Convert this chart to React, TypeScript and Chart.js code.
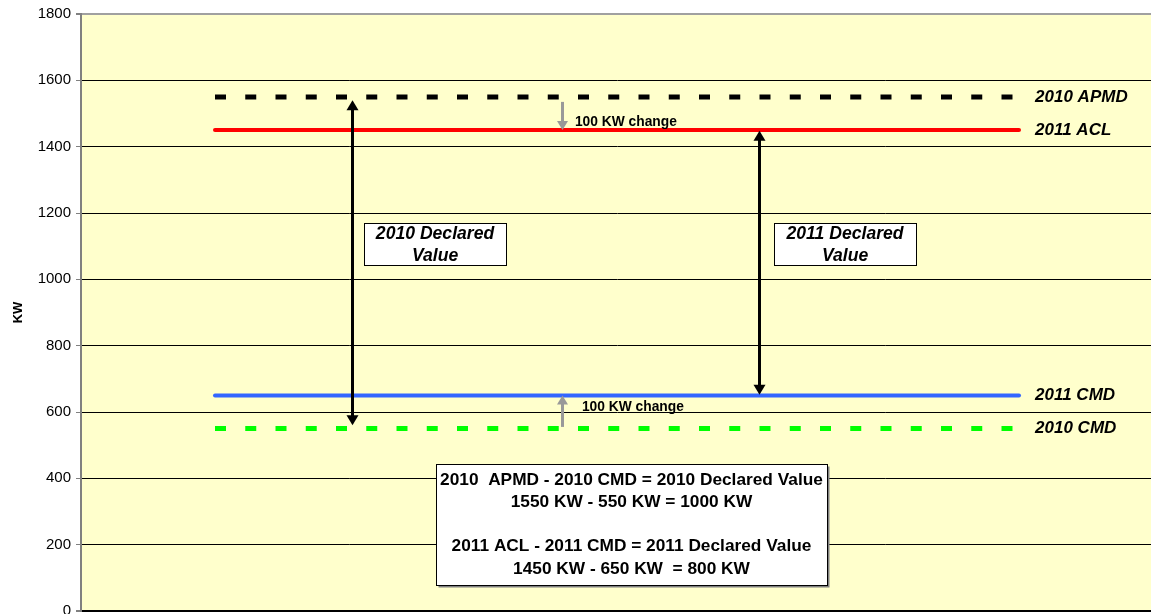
import React, { useEffect, useRef } from "react";
import { Chart, registerables } from "chart.js";

Chart.register(...registerables);

// ---- data ----
const categories = ["", "", "", ""];
const apmd2010 = [1550, 1550, 1550, 1550];
const acl2011 = [1450, 1450, 1450, 1450];
const cmd2011 = [650, 650, 650, 650];
const cmd2010 = [550, 550, 550, 550];
const seriesNames = ["2010 APMD", "2011 ACL", "2011 CMD", "2010 CMD"];
const yMin = 0;
const yMax = 1800;
const yStep = 200;
const declaredLabels = [["2010 Declared", "Value"], ["2011 Declared", "Value"]];
const summaryLines = [
  "2010  APMD - 2010 CMD = 2010 Declared Value",
  "1550 KW - 550 KW = 1000 KW",
  "",
  "2011 ACL - 2011 CMD = 2011 Declared Value",
  "1450 KW - 650 KW  = 800 KW",
];
const changeLabel = "100 KW change";
const yTitle = "KW";

// ---- annotation placement (in axis units) ----
const declaredArrows = [
  { x: 0.51, from: 1540, to: 560 },
  { x: 2.03, from: 1448, to: 652 },
];
const changeArrows = [
  { x: 1.293, from: 1535, to: 1450 },
  { x: 1.293, from: 555, to: 650 },
];
const changeTexts = [
  { x: 1.343, y: 1474 },
  { x: 1.369, y: 615 },
];
const declaredBoxes = [
  { x: 0.821, y: 1107 },
  { x: 2.351, y: 1107 },
];
const summaryBox = { x: 1.554, y: 261 };
const seriesLabelX = 3.06;

const FONT = "'Liberation Sans', Arial, Helvetica, sans-serif";

function arrowHead(ctx: CanvasRenderingContext2D, x: number, tipY: number, dir: number, len: number, half: number) {
  ctx.beginPath();
  ctx.moveTo(x, tipY);
  ctx.lineTo(x - half, tipY - dir * len);
  ctx.lineTo(x + half, tipY - dir * len);
  ctx.closePath();
  ctx.fill();
}

const annotationPlugin = {
  id: "annotations",
  beforeDraw(chart: any) {
    const { ctx, chartArea: a } = chart;
    ctx.save();
    ctx.fillStyle = "#ffffff";
    ctx.fillRect(0, 0, chart.width, chart.height);
    ctx.fillStyle = "#FFFFCC";
    ctx.fillRect(a.left, a.top, a.right - a.left, a.bottom - a.top);
    ctx.restore();
  },
  afterDatasetsDraw(chart: any) {
    const { ctx } = chart;
    const xs = chart.scales.x;
    const ys = chart.scales.y;
    const px = (v: number) => xs.getPixelForValue(v);
    const py = (v: number) => ys.getPixelForValue(v);
    ctx.save();

    // black double arrows
    ctx.strokeStyle = "#000";
    ctx.fillStyle = "#000";
    ctx.lineWidth = 3;
    declaredArrows.forEach((d) => {
      const x = Math.round(px(d.x)) + 0.5;
      const y1 = py(d.from);
      const y2 = py(d.to);
      ctx.beginPath();
      ctx.moveTo(x, y1 + 8);
      ctx.lineTo(x, y2 - 8);
      ctx.stroke();
      arrowHead(ctx, x, y1, -1, 10, 6);
      arrowHead(ctx, x, y2, 1, 10, 6);
    });

    // gray change arrows
    ctx.strokeStyle = "#999999";
    ctx.fillStyle = "#999999";
    ctx.lineWidth = 3;
    changeArrows.forEach((d) => {
      const x = Math.round(px(d.x)) + 0.5;
      const y1 = py(d.from);
      const y2 = py(d.to);
      const dir = y2 > y1 ? 1 : -1;
      ctx.beginPath();
      ctx.moveTo(x, y1);
      ctx.lineTo(x, y2 - dir * 7);
      ctx.stroke();
      arrowHead(ctx, x, y2, dir, 9, 5.5);
    });

    // change labels
    ctx.fillStyle = "#000";
    ctx.font = `bold 13.8px ${FONT}`;
    ctx.textAlign = "left";
    ctx.textBaseline = "middle";
    changeTexts.forEach((t) => ctx.fillText(changeLabel, px(t.x), py(t.y)));

    // series labels at right
    ctx.font = `italic bold 17px ${FONT}`;
    [apmd2010, acl2011, cmd2011, cmd2010].forEach((s, i) => {
      ctx.fillText(seriesNames[i], px(seriesLabelX), py(s[s.length - 1]));
    });

    // declared value boxes
    const bw = 142, bh = 42;
    declaredBoxes.forEach((b, i) => {
      const cx = px(b.x), cy = py(b.y);
      const l = Math.round(cx - bw / 2) + 0.5, t = Math.round(cy - bh / 2) + 0.5;
      ctx.fillStyle = "#fff";
      ctx.fillRect(l, t, bw, bh);
      ctx.strokeStyle = "#000";
      ctx.lineWidth = 1;
      ctx.strokeRect(l, t, bw, bh);
      ctx.fillStyle = "#000";
      ctx.font = `italic bold 17.6px ${FONT}`;
      ctx.textAlign = "center";
      ctx.fillText(declaredLabels[i][0], cx, cy - 10);
      ctx.fillText(declaredLabels[i][1], cx, cy + 12);
    });

    // summary box
    const sw = 391, sh = 121;
    const scx = px(summaryBox.x), scy = py(summaryBox.y);
    const sl = Math.round(scx - sw / 2) + 0.5, st = Math.round(scy - sh / 2) + 0.5;
    ctx.fillStyle = "#808080";
    ctx.fillRect(sl + 2, st + 2, sw, sh);
    ctx.fillStyle = "#fff";
    ctx.fillRect(sl, st, sw, sh);
    ctx.strokeStyle = "#000";
    ctx.lineWidth = 1;
    ctx.strokeRect(sl, st, sw, sh);
    ctx.fillStyle = "#000";
    ctx.font = `bold 17.3px ${FONT}`;
    ctx.textAlign = "center";
    const lh = 22.25;
    summaryLines.forEach((line, i) => {
      if (line) ctx.fillText(line, scx, scy + (i - 2) * lh);
    });

    ctx.restore();
  },
};

export default function App() {
  const ref = useRef<HTMLCanvasElement | null>(null);

  useEffect(() => {
    document.body.style.margin = "0";
    document.body.style.overflow = "hidden";
    const canvas = ref.current;
    if (!canvas) return;
    const mk = (label: string, data: number[], color: string, dashed: boolean) => ({
      label,
      data,
      borderColor: color,
      backgroundColor: color,
      borderWidth: dashed ? 5 : 4,
      borderDash: dashed ? [11, 19.25] : [],
      borderCapStyle: dashed ? "butt" : "round",
      pointRadius: 0,
      pointHoverRadius: 0,
      fill: false,
      tension: 0,
    });
    const chart = new Chart(canvas, {
      type: "line",
      data: {
        labels: categories,
        datasets: [
          mk(seriesNames[0], apmd2010, "#000000", true),
          mk(seriesNames[1], acl2011, "#FF0000", false),
          mk(seriesNames[2], cmd2011, "#3366FF", false),
          mk(seriesNames[3], cmd2010, "#00FF00", true),
        ] as any,
      },
      options: {
        responsive: false,
        animation: false,
        devicePixelRatio: 1,
        layout: { padding: { top: 14, bottom: 3, left: 0, right: 0 } },
        plugins: {
          legend: { display: false },
          tooltip: { enabled: false },
          title: { display: false },
        },
        scales: {
          x: {
            type: "category",
            offset: true,
            display: false,
          },
          y: {
            min: yMin,
            max: yMax,
            afterFit: (s: any) => {
              s.width = 81;
              s.paddingTop = 0;
              s.paddingBottom = 0;
            },
            ticks: {
              stepSize: yStep,
              color: "#000",
              padding: 5,
              font: { family: FONT, size: 15 },
              callback: (v: any) => String(v),
            },
            grid: {
              color: (c: any) => (c.tick && c.tick.value === yMax ? "#a0a0a0" : "#000"),
              lineWidth: (c: any) => (c.tick && (c.tick.value === yMax || c.tick.value === yMin) ? 2 : 1),
              tickLength: 5,
              tickColor: "#808080",
              drawTicks: true,
            },
            border: { color: "#808080", width: 2 },
            title: {
              display: true,
              text: yTitle,
              color: "#000",
              font: { family: FONT, size: 13, weight: "bold" },
              padding: { top: 11, bottom: 0 },
            },
          },
        },
      },
      plugins: [annotationPlugin],
    } as any);
    return () => chart.destroy();
  }, []);

  return (
    <div style={{ position: "absolute", left: 0, top: 0, width: 1151, height: 614, overflow: "hidden" }}>
      <canvas ref={ref} width={1153} height={614} style={{ display: "block" }} />
    </div>
  );
}
